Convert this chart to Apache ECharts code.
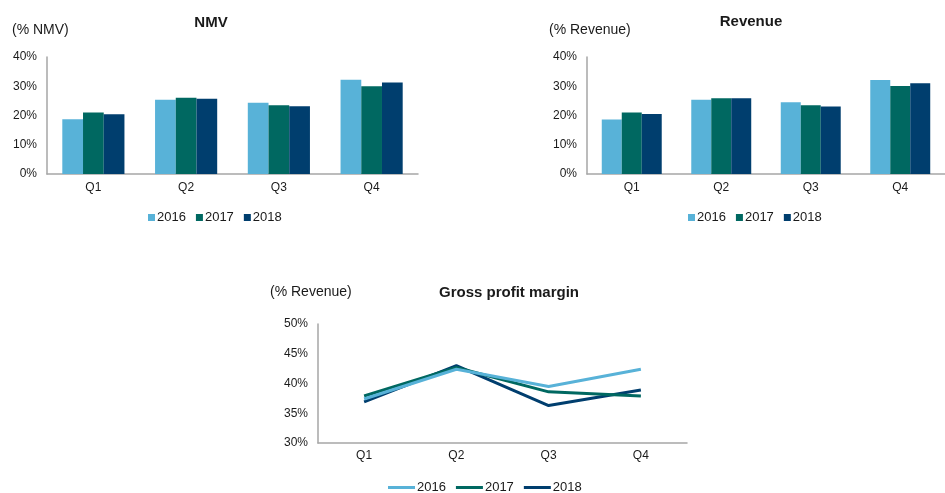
<!DOCTYPE html>
<html>
<head>
<meta charset="utf-8">
<script src="https://cdn.jsdelivr.net/npm/echarts@6/dist/echarts.min.js"></script>
<style>html,body{margin:0;padding:0;background:#fff}#c{width:945px;height:493px}</style>
</head>
<body>
<div id="c"></div>
<script>
const quarters = ['Q1', 'Q2', 'Q3', 'Q4'];
const years = ['2016', '2017', '2018'];
const nmv2016 = [18.7, 25.4, 24.4, 32.2];
const nmv2017 = [21.0, 26.1, 23.5, 30.0];
const nmv2018 = [20.4, 25.7, 23.2, 31.3];
const rev2016 = [18.6, 25.4, 24.5, 32.1];
const rev2017 = [21.0, 25.9, 23.5, 30.1];
const rev2018 = [20.5, 25.9, 23.1, 31.0];
const gpm2016 = [37.4, 42.4, 39.5, 42.4];
const gpm2017 = [37.9, 42.7, 38.6, 37.9];
const gpm2018 = [36.9, 43.0, 36.3, 38.9];
const barTicks = [0, 10, 20, 30, 40];
const gpmTicks = [30, 35, 40, 45, 50];

const colors = ['#58B2D8', '#006861', '#003E6E'];
const FONT = '"Liberation Sans", Arial, sans-serif';
const TXT = '#1a1a1a';
const AXIS = '#a6a6a6';

const chart = echarts.init(document.getElementById('c'), null, {renderer: 'canvas'});

function xAx(gi, margin) {
  return {
    type: 'category', gridIndex: gi, data: quarters, boundaryGap: true,
    axisLine: {show: true, lineStyle: {color: AXIS, width: 1.5}},
    axisTick: {show: false},
    axisLabel: {color: TXT, fontSize: 12, fontFamily: FONT, margin: margin}
  };
}
function yAx(gi, ticks) {
  return {
    type: 'value', gridIndex: gi, min: ticks[0], max: ticks[ticks.length - 1],
    interval: ticks[1] - ticks[0],
    axisLine: {show: true, lineStyle: {color: AXIS, width: 1.5}},
    axisTick: {show: false},
    splitLine: {show: false},
    axisLabel: {color: TXT, fontSize: 12, fontFamily: FONT, margin: 10, formatter: v => v + '%'}
  };
}
function barSeries(name, data, idx, axIdx) {
  return {
    type: 'bar', name: name, data: data, xAxisIndex: axIdx, yAxisIndex: axIdx,
    barGap: '0%', barCategoryGap: '33%', itemStyle: {color: colors[idx]}, silent: true
  };
}
function lineSeries(name, data, idx) {
  return {
    type: 'line', name: name, data: data, xAxisIndex: 2, yAxisIndex: 2,
    symbol: 'none', lineStyle: {color: colors[idx], width: 3}, itemStyle: {color: colors[idx]},
    silent: true, z: 10 - idx
  };
}
const titleStyle = {color: TXT, fontSize: 15, fontWeight: 'bold', fontFamily: FONT};
const subStyle = {color: TXT, fontSize: 14, fontWeight: 'normal', fontFamily: FONT};
const legText = {color: TXT, fontSize: 13, fontFamily: FONT, padding: [0, 0, 0, -3]};

const option = {
  animation: false,
  backgroundColor: '#fff',
  textStyle: {fontFamily: FONT},
  title: [
    {text: 'NMV', left: 211, top: 15, textAlign: 'center', padding: 0, textStyle: titleStyle},
    {text: '(% NMV)', left: 12, top: 23, padding: 0, textStyle: subStyle},
    {text: 'Revenue', left: 751, top: 14, textAlign: 'center', padding: 0, textStyle: titleStyle},
    {text: '(% Revenue)', left: 549, top: 23, padding: 0, textStyle: subStyle},
    {text: 'Gross profit margin', left: 509, top: 285, textAlign: 'center', padding: 0, textStyle: titleStyle},
    {text: '(% Revenue)', left: 270, top: 285, padding: 0, textStyle: subStyle}
  ],
  legend: [
    {data: years, left: 148, top: 211, padding: 0, icon: 'rect', itemWidth: 7, itemHeight: 7, itemGap: 10,
     textStyle: legText, selectedMode: false},
    {data: years, left: 688, top: 211, padding: 0, icon: 'rect', itemWidth: 7, itemHeight: 7, itemGap: 10,
     textStyle: legText, selectedMode: false},
    {data: years, left: 388, top: 481, padding: 0, icon: 'rect', itemWidth: 27, itemHeight: 3, itemGap: 10,
     textStyle: legText, selectedMode: false}
  ],
  grid: [
    {left: 47, top: 57, width: 371, height: 117, containLabel: false},
    {left: 587, top: 57, width: 371, height: 117, containLabel: false},
    {left: 318, top: 324, width: 369, height: 119, containLabel: false}
  ],
  xAxis: [xAx(0, 8), xAx(1, 8), xAx(2, 7)],
  yAxis: [yAx(0, barTicks), yAx(1, barTicks), yAx(2, gpmTicks)],
  series: [
    barSeries('2016', nmv2016, 0, 0),
    barSeries('2017', nmv2017, 1, 0),
    barSeries('2018', nmv2018, 2, 0),
    barSeries('2016', rev2016, 0, 1),
    barSeries('2017', rev2017, 1, 1),
    barSeries('2018', rev2018, 2, 1),
    lineSeries('2016', gpm2016, 0),
    lineSeries('2017', gpm2017, 1),
    lineSeries('2018', gpm2018, 2)
  ]
};
chart.setOption(option);
</script>
</body>
</html>
